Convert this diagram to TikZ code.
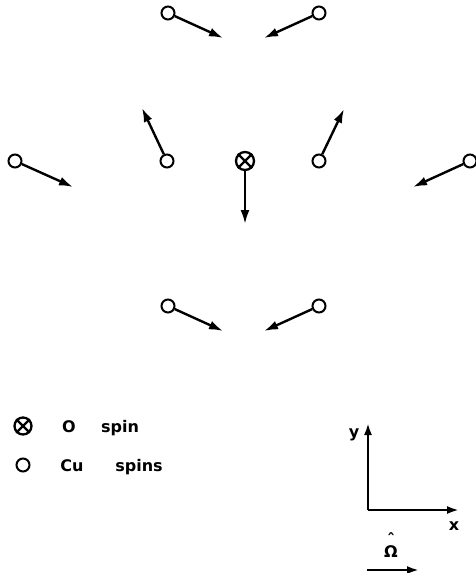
\documentclass[tikz,border=0pt]{standalone}
\usepackage{fontspec}
\setmainfont{DejaVu Sans}
\usetikzlibrary{arrows.meta}
\begin{document}
\begin{tikzpicture}[x=1pt,y=-1pt,
  cu/.style={circle,draw,line width=2pt,minimum size=13pt,inner sep=0pt,fill=white},
  ox/.style={circle,draw,line width=2.3pt,minimum size=18pt,inner sep=0pt,fill=white},
  spinarrow/.style={line width=2.4pt,-{Latex[length=14pt,width=9pt]}},
  axarrow/.style={line width=2.3pt,-{Latex[length=12pt,width=8pt]}},
  lab/.style={font=\bfseries\fontsize{16}{18}\selectfont,inner sep=0pt}]
\useasboundingbox (0,0) rectangle (476,573);
% top row
\node[cu] (t1) at (168,13) {};
\node[cu] (t2) at (319,13) {};
\coordinate (t1e) at (223,38);
\coordinate (t2e) at (264,38);
\draw[spinarrow] (t1) -- (t1e);
\draw[spinarrow] (t2) -- (t2e);
% middle row
\node[cu] (m1) at (15,161) {};
\node[cu] (m2) at (167,161) {};
\node[ox] (o) at (245,161) {};
\draw[line width=2.3pt] (o.north east) -- (o.south west) (o.north west) -- (o.south east);
\node[cu] (m4) at (319,161) {};
\node[cu] (m5) at (470,161) {};
\coordinate (m1e) at (73,187);
\coordinate (m2e) at (142,108);
\coordinate (oe) at (245,224);
\coordinate (m4e) at (344,109);
\coordinate (m5e) at (413,187);
\draw[spinarrow] (m1) -- (m1e);
\draw[spinarrow] (m2) -- (m2e);
\draw[spinarrow] (o) -- (oe);
\draw[spinarrow] (m4) -- (m4e);
\draw[spinarrow] (m5) -- (m5e);
% bottom row
\node[cu] (b1) at (168,306) {};
\node[cu] (b2) at (319,306) {};
\coordinate (b1e) at (223,331);
\coordinate (b2e) at (264,331);
\draw[spinarrow] (b1) -- (b1e);
\draw[spinarrow] (b2) -- (b2e);
% legend
\node[ox,minimum size=17pt] (lo) at (23,426) {};
\draw[line width=2.3pt] (lo.north east) -- (lo.south west) (lo.north west) -- (lo.south east);
\node[lab,anchor=base] (lO) at (69,432) {O};
\node[lab,anchor=base] (lspin) at (120,432) {spin};
\node[cu] (lc) at (23,465) {};
\node[lab,anchor=base] (lCu) at (72,471) {Cu};
\node[lab,anchor=base] (lspins) at (139,471) {spins};
% axes
\coordinate (orig) at (368,510);
\coordinate (ytip) at (368,423);
\coordinate (xtip) at (459,510);
\draw[axarrow] (orig) -- (ytip);
\draw[axarrow] (orig) -- (xtip);
\node[lab,anchor=base] (ylab) at (354,437) {y};
\node[lab,anchor=base] (xlab) at (454,530) {x};
\node[lab,anchor=base] (om) at (391,557) {\shortstack{\char"02C6\\[-3pt]Ω}};
\coordinate (oma) at (367,570);
\coordinate (omb) at (419,570);
\draw[axarrow] (oma) -- (omb);
\end{tikzpicture}
\end{document}
